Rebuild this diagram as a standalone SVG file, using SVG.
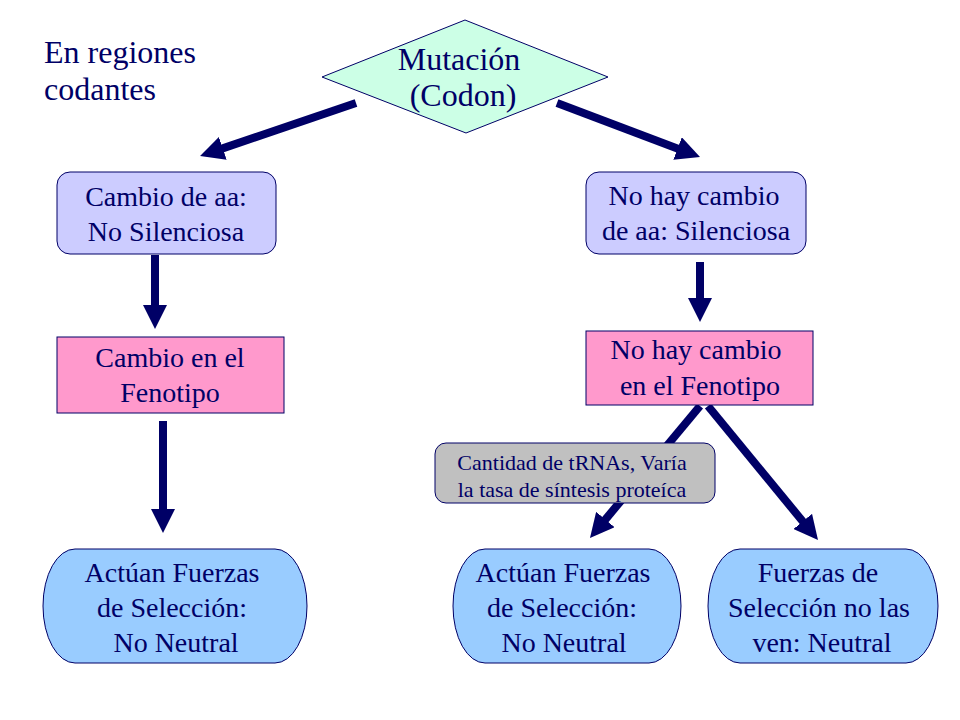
<svg xmlns="http://www.w3.org/2000/svg" width="960" height="720" viewBox="0 0 960 720" font-family="'Liberation Serif', 'Times New Roman', 'DejaVu Serif', serif">
<style>
text{font-family:'Liberation Serif','Times New Roman','DejaVu Serif',serif}
.t{fill:#000066;text-anchor:middle}
.l{font-size:28px}
.b{font-size:32px}
.s{font-size:22px}
.edge{stroke:#000066;stroke-width:8;fill:none;marker-end:url(#ah)}
.nd{stroke:#000066;stroke-width:1}
</style>
<defs>
<marker id="ah" markerUnits="userSpaceOnUse" markerWidth="24" markerHeight="24" viewBox="0 0 24 24" refX="4" refY="12" orient="auto">
<path d="M0,0 L24,12 L0,24 Z" fill="#000066"/>
</marker>
</defs>
<rect width="960" height="720" fill="#ffffff"/>
<g id="title">
<text class="t b" x="44" y="63" style="text-anchor:start">En regiones</text>
<text class="t b" x="44" y="100" style="text-anchor:start">codantes</text>
</g>
<g id="connectors">
<line class="edge" x1="356" y1="103" x2="219" y2="149.6"/>
<line class="edge" x1="557" y1="103" x2="681.3" y2="149.9"/>
<line class="edge" x1="155" y1="255" x2="155" y2="309"/>
<line class="edge" x1="163" y1="421" x2="163" y2="513"/>
<line class="edge" x1="700" y1="262" x2="700" y2="302"/>
<line class="edge" x1="700" y1="406" x2="602.8" y2="522.6"/>
<line class="edge" x1="708" y1="406" x2="805.3" y2="524.5"/>
</g>
<g id="mutacion">
<polygon class="nd" points="322,77 465,20 608,77 466,133" fill="#ccffe6"/>
<text class="t b" x="459" y="70">Mutación</text>
<text class="t b" x="463" y="106">(Codon)</text>
</g>
<g id="cambio-aa">
<rect class="nd" x="57" y="172" width="219" height="82" rx="13" fill="#ccccff"/>
<text class="t l" x="166" y="206">Cambio de aa:</text>
<text class="t l" x="166" y="241">No Silenciosa</text>
</g>
<g id="no-cambio-aa">
<rect class="nd" x="586" y="172" width="220" height="82" rx="13" fill="#ccccff"/>
<text class="t l" x="694" y="205">No hay cambio</text>
<text class="t l" x="696" y="240">de aa: Silenciosa</text>
</g>
<g id="cambio-fenotipo">
<rect class="nd" x="57" y="337" width="227" height="76" fill="#ff99cc"/>
<text class="t l" x="170" y="367">Cambio en el</text>
<text class="t l" x="170" y="402">Fenotipo</text>
</g>
<g id="no-cambio-fenotipo">
<rect class="nd" x="586" y="331" width="227" height="74" fill="#ff99cc"/>
<text class="t l" x="696" y="359">No hay cambio</text>
<text class="t l" x="700" y="395">en el Fenotipo</text>
</g>
<g id="trnas">
<rect class="nd" x="435" y="443" width="280" height="60" rx="11" fill="#c0c0c0"/>
<text class="t s" x="572" y="470">Cantidad de tRNAs, Varía</text>
<text class="t s" x="572" y="497">la tasa de síntesis proteíca</text>
</g>
<g id="seleccion-izq">
<path class="nd" d="M75,549 H275 A32 57 0 0 1 275,663 H75 A32 57 0 0 1 75,549 Z" fill="#99ccff"/>
<text class="t l" x="172" y="582">Actúan Fuerzas</text>
<text class="t l" x="172" y="617">de Selección:</text>
<text class="t l" x="176" y="652">No Neutral</text>
</g>
<g id="seleccion-centro">
<path class="nd" d="M485,549 H649 A32 57 0 0 1 649,663 H485 A32 57 0 0 1 485,549 Z" fill="#99ccff"/>
<text class="t l" x="563" y="582">Actúan Fuerzas</text>
<text class="t l" x="562" y="617">de Selección:</text>
<text class="t l" x="564" y="652">No Neutral</text>
</g>
<g id="neutral">
<path class="nd" d="M740,549 H906 A32 57 0 0 1 906,663 H740 A32 57 0 0 1 740,549 Z" fill="#99ccff"/>
<text class="t l" x="818" y="582">Fuerzas de</text>
<text class="t l" x="819" y="617">Selección no las</text>
<text class="t l" x="822" y="652">ven: Neutral</text>
</g>
</svg>
